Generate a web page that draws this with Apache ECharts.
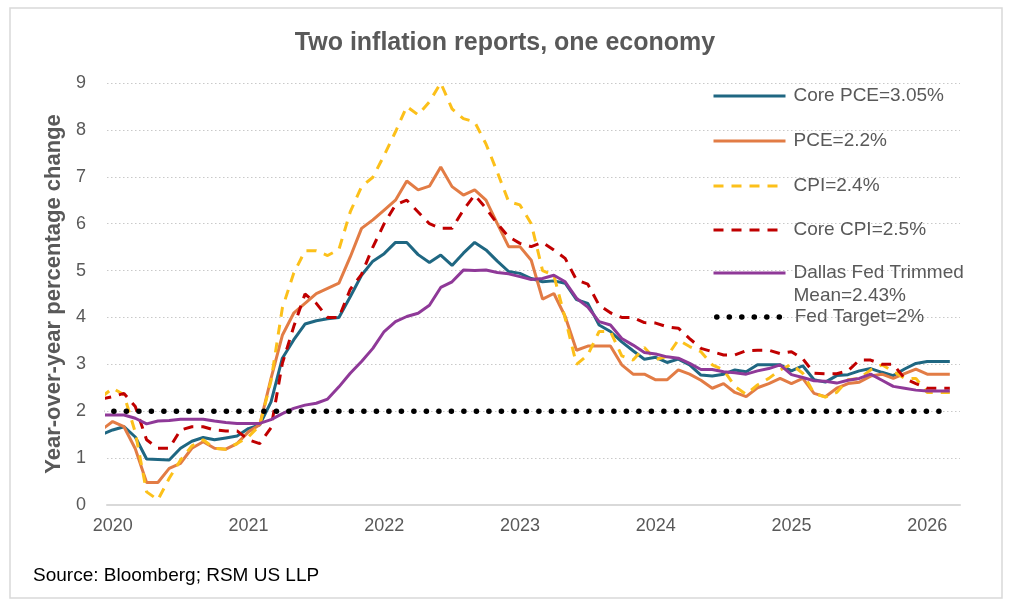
<!DOCTYPE html>
<html>
<head>
<meta charset="utf-8">
<script src="https://cdn.jsdelivr.net/npm/echarts@6/dist/echarts.min.js"></script>
<style>
  html, body { margin: 0; padding: 0; background: #fff; }
  #chart { width: 1010px; height: 607px; }
</style>
</head>
<body>
<div id="chart"></div>
<script>
// Monthly categories: Dec 2019 .. Mar 2026
const months = [];
for (let y = 2019; y <= 2026; y++) {
  for (let m = 1; m <= 12; m++) {
    if ((y === 2019 && m < 12) || (y === 2026 && m > 3)) continue;
    months.push(y + '-' + String(m).padStart(2, '0'));
  }
}
const yearTicks = ['2020', '2021', '2022', '2023', '2024', '2025', '2026'];

const corePCE = [1.5,
  1.6, 1.67, 1.45, 0.98, 0.97, 0.96, 1.21, 1.36, 1.44, 1.39, 1.43, 1.47,
  1.63, 1.71, 2.2, 3.13, 3.52, 3.86, 3.93, 3.97, 4.0, 4.44, 4.9, 5.2,
  5.36, 5.6, 5.6, 5.34, 5.17, 5.33, 5.11, 5.37, 5.6, 5.44, 5.2, 4.98,
  4.94, 4.83, 4.76, 4.78, 4.73, 4.38, 4.3, 3.84, 3.7, 3.48, 3.29, 3.11,
  3.15, 3.04, 3.11, 2.99, 2.77, 2.75, 2.79, 2.88, 2.84, 2.99, 2.99, 2.99,
  2.86, 2.97, 2.67, 2.62, 2.76, 2.78, 2.86, 2.91, 2.83, 2.76, 2.9, 3.02,
  3.06, 3.06, 3.06];
const pce = [1.6,
  1.78, 1.67, 1.2, 0.48, 0.48, 0.78, 0.89, 1.21, 1.35, 1.21, 1.19, 1.31,
  1.56, 1.71, 2.7, 3.62, 4.09, 4.3, 4.51, 4.62, 4.73, 5.29, 5.9, 6.08,
  6.29, 6.5, 6.91, 6.72, 6.8, 7.21, 6.79, 6.61, 6.72, 6.5, 6.0, 5.51,
  5.51, 5.22, 4.39, 4.51, 4.02, 3.3, 3.39, 3.39, 3.39, 2.99, 2.79, 2.79,
  2.67, 2.67, 2.88, 2.79, 2.66, 2.49, 2.59, 2.4, 2.31, 2.5, 2.59, 2.7,
  2.59, 2.7, 2.38, 2.31, 2.49, 2.59, 2.62, 2.75, 2.79, 2.7, 2.8, 2.9,
  2.79, 2.79, 2.79];
const cpi = [2.3,
  2.49, 2.35, 1.55, 0.28, 0.11, 0.57, 0.96, 1.26, 1.39, 1.21, 1.19, 1.31,
  1.45, 1.7, 2.65, 4.2, 4.94, 5.42, 5.42, 5.32, 5.45, 6.25, 6.79, 6.99,
  7.46, 7.96, 8.5, 8.32, 8.6, 9.0, 8.45, 8.24, 8.17, 7.7, 7.1, 6.47,
  6.4, 6.0, 5.0, 4.9, 3.98, 3.0, 3.2, 3.7, 3.7, 3.18, 3.09, 3.36,
  3.1, 3.17, 3.52, 3.38, 3.27, 2.99, 2.88, 2.53, 2.36, 2.56, 2.7, 2.88,
  3.0, 2.81, 2.38, 2.3, 2.4, 2.67, 2.7, 2.88, 2.99, 2.85, 2.7, 2.7,
  2.4, 2.4, 2.4];
const coreCPI = [2.26,
  2.31, 2.38, 2.1, 1.39, 1.21, 1.21, 1.6, 1.67, 1.67, 1.6, 1.58, 1.58,
  1.39, 1.31, 1.65, 3.02, 3.8, 4.5, 4.3, 4.0, 4.0, 4.6, 4.92, 5.5,
  6.0, 6.4, 6.5, 6.25, 6.0, 5.9, 5.9, 6.29, 6.61, 6.33, 6.0, 5.72,
  5.58, 5.51, 5.6, 5.44, 5.26, 4.8, 4.71, 4.26, 4.1, 4.0, 4.0, 3.89,
  3.88, 3.8, 3.77, 3.55, 3.34, 3.27, 3.2, 3.2, 3.29, 3.3, 3.3, 3.23,
  3.27, 3.12, 2.81, 2.8, 2.8, 2.86, 3.09, 3.09, 3.0, 3.0, 2.7, 2.59,
  2.49, 2.49, 2.49];
const dallasTrimmed = [1.92,
  1.92, 1.92, 1.85, 1.73, 1.79, 1.8, 1.83, 1.83, 1.83, 1.79, 1.76, 1.74,
  1.74, 1.74, 1.82, 1.95, 2.06, 2.13, 2.17, 2.26, 2.52, 2.81, 3.06, 3.34,
  3.7, 3.91, 4.02, 4.09, 4.26, 4.64, 4.76, 5.01, 5.0, 5.01, 4.96, 4.93,
  4.87, 4.81, 4.83, 4.9, 4.76, 4.41, 4.22, 3.91, 3.84, 3.55, 3.41, 3.25,
  3.22, 3.16, 3.13, 3.02, 2.89, 2.89, 2.84, 2.82, 2.79, 2.86, 2.91, 2.99,
  2.78, 2.72, 2.65, 2.64, 2.6, 2.66, 2.7, 2.79, 2.66, 2.53, 2.49, 2.45,
  2.43, 2.43, 2.43];
const fedTarget = 2;

const seriesNames = ['Core PCE=3.05%', 'PCE=2.2%', 'CPI=2.4%', 'Core CPI=2.5%', 'Dallas Fed Trimmed Mean=2.43%', 'Fed Target=2%'];

// x position: months since Jan 2020 (Dec 2019 = -1)
function toPoints(values) {
  return values.map((v, k) => [k - 1, v]);
}

const TXT = '#595959';
const FONT = '"Liberation Sans", Arial, sans-serif';

const chart = echarts.init(document.getElementById('chart'));

const lineStyles = [
  { color: '#1f6782', width: 3, type: 'solid' },
  { color: '#e27c45', width: 3, type: 'solid' },
  { color: '#fcc01a', width: 3, type: [10, 8] },
  { color: '#c00000', width: 3, type: [10, 8] },
  { color: '#8f3998', width: 3, type: 'solid' },
  { color: '#000000', width: 5.5, type: [0.1, 12.4], cap: 'round' }
];
const dataSets = [corePCE, pce, cpi, coreCPI, dallasTrimmed, months.map(() => fedTarget)];

const series = seriesNames.map((name, idx) => ({
  name: name,
  type: 'line',
  symbol: 'none',
  clip: true,
  z: 2 + idx,
  itemStyle: { color: lineStyles[idx].color },
  lineStyle: lineStyles[idx],
  data: toPoints(dataSets[idx])
}));

const legendCenters = [96, 141, 186, 230, 273, 317];
const legends = seriesNames.map((name, idx) => {
  const isDallas = idx === 4;
  const ls = lineStyles[idx];
  return {
    data: [name],
    left: idx === 5 ? 714 : 712,
    top: isDallas ? legendCenters[idx] - 34.5 : legendCenters[idx] - 11,
    orient: 'vertical',
    padding: 0,
    itemWidth: idx === 5 ? 68 : 72,
    itemHeight: 14,
    selectedMode: false,
    formatter: isDallas ? ' \nDallas Fed Trimmed\nMean=2.43%' : '{name}',
    itemStyle: { opacity: 0, borderWidth: 0 },
    lineStyle: { width: ls.width, type: ls.type, cap: ls.cap || 'butt', color: ls.color },
    textStyle: {
      color: TXT,
      fontFamily: FONT,
      fontSize: 19,
      lineHeight: isDallas ? 23 : 22,
      padding: [0, 0, 0, idx === 5 ? 5 : 3]
    }
  };
});

chart.setOption({
  animation: false,
  backgroundColor: '#ffffff',
  title: {
    text: 'Two inflation reports, one economy',
    left: 'center',
    top: 26,
    textStyle: { color: TXT, fontFamily: FONT, fontSize: 25, fontWeight: 'bold' }
  },
  graphic: [
    {
      type: 'rect',
      shape: { x: 10, y: 8, width: 992, height: 590 },
      style: { fill: 'none', stroke: '#d9d9d9', lineWidth: 1.5 },
      silent: true, z: -10
    },
    {
      type: 'text',
      left: 33, top: 566,
      style: { text: 'Source: Bloomberg; RSM US LLP', fill: '#000000', font: '19px "Liberation Sans", Arial, sans-serif' }
    }
  ],
  legend: legends,
  grid: { left: 107, right: 50, top: 83, bottom: 102, containLabel: false },
  xAxis: {
    type: 'value',
    min: -0.5,
    max: 74.9,
    axisLine: { show: true, lineStyle: { color: '#d9d9d9', width: 2 } },
    axisTick: { show: false },
    splitLine: { show: false },
    axisLabel: {
      customValues: yearTicks.map((y, k) => k * 12),
      formatter: (v) => yearTicks[Math.round(v / 12)],
      color: TXT, fontFamily: FONT, fontSize: 18, margin: 12
    }
  },
  yAxis: {
    type: 'value',
    min: 0, max: 9, interval: 1,
    name: 'Year-over-year percentage change',
    nameLocation: 'middle',
    nameGap: 37,
    nameTextStyle: { color: TXT, fontFamily: FONT, fontSize: 22, fontWeight: 'bold' },
    axisLine: { show: false },
    axisTick: { show: false },
    axisLabel: { color: TXT, fontFamily: FONT, fontSize: 18, margin: 21 },
    splitLine: { show: true, lineStyle: { color: '#c9c9c9', width: 1.2, type: [1.5, 2.5] } }
  },
  series: series
});
</script>
</body>
</html>
